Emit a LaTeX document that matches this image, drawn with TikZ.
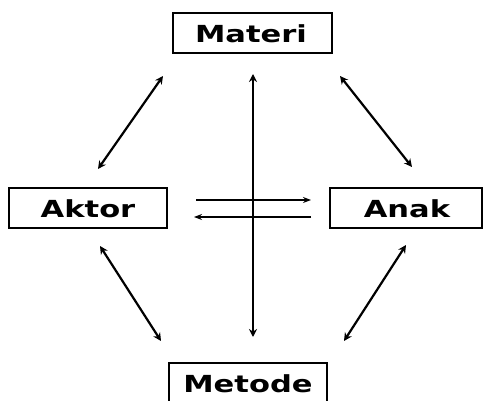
\documentclass[tikz,border=0pt]{standalone}
\usepackage{fontspec}
\setmainfont{DejaVu Sans}
\usetikzlibrary{arrows.meta}
\begin{document}
\begin{tikzpicture}[x=1pt,y=-1pt,
  box/.style={draw,line width=2pt,inner sep=0pt},
  lbl/.style={font=\bfseries\fontsize{23.5}{26}\selectfont},
  conn/.style={line width=2.2pt,{Stealth[length=8pt,width=8pt]}-{Stealth[length=8pt,width=8pt]}},
  one/.style={line width=1.8pt,-{Stealth[length=8pt,width=6pt]}}]
\useasboundingbox (0,0) rectangle (483,401);
\node[box,minimum width=159pt,minimum height=40pt] (materi) at (252.5,33) {};
\node[lbl] (tm) at (251,34) {\scalebox{1.3}[1]{Materi}};
\node[box,minimum width=158pt,minimum height=40pt] (aktor) at (88,208) {};
\node[lbl] (ta) at (88,209) {\scalebox{1.3}[1]{Aktor}};
\node[box,minimum width=152pt,minimum height=40pt] (anak) at (406,208) {};
\node[lbl] (tn) at (407,209) {\scalebox{1.3}[1]{Anak}};
\node[box,minimum width=158pt,minimum height=42pt] (metode) at (248,384) {};
\node[lbl] (to) at (248,384) {\scalebox{1.3}[1]{Metode}};
\coordinate (v1) at (253,74);
\coordinate (v2) at (253,337);
\draw[conn] (v1) -- (v2);
\coordinate (a1) at (163,76);
\coordinate (a2) at (98,169);
\draw[conn] (a1) -- (a2);
\coordinate (b1) at (340,76);
\coordinate (b2) at (412,167);
\draw[conn] (b1) -- (b2);
\coordinate (c1) at (100,246);
\coordinate (c2) at (161,341);
\draw[conn] (c1) -- (c2);
\coordinate (d1) at (406,245);
\coordinate (d2) at (344,341);
\draw[conn] (d1) -- (d2);
\coordinate (h1) at (196,200);
\coordinate (h2) at (311,200);
\draw[one] (h1) -- (h2);
\coordinate (k1) at (311,217);
\coordinate (k2) at (194,217);
\draw[one] (k1) -- (k2);
\end{tikzpicture}
\end{document}
